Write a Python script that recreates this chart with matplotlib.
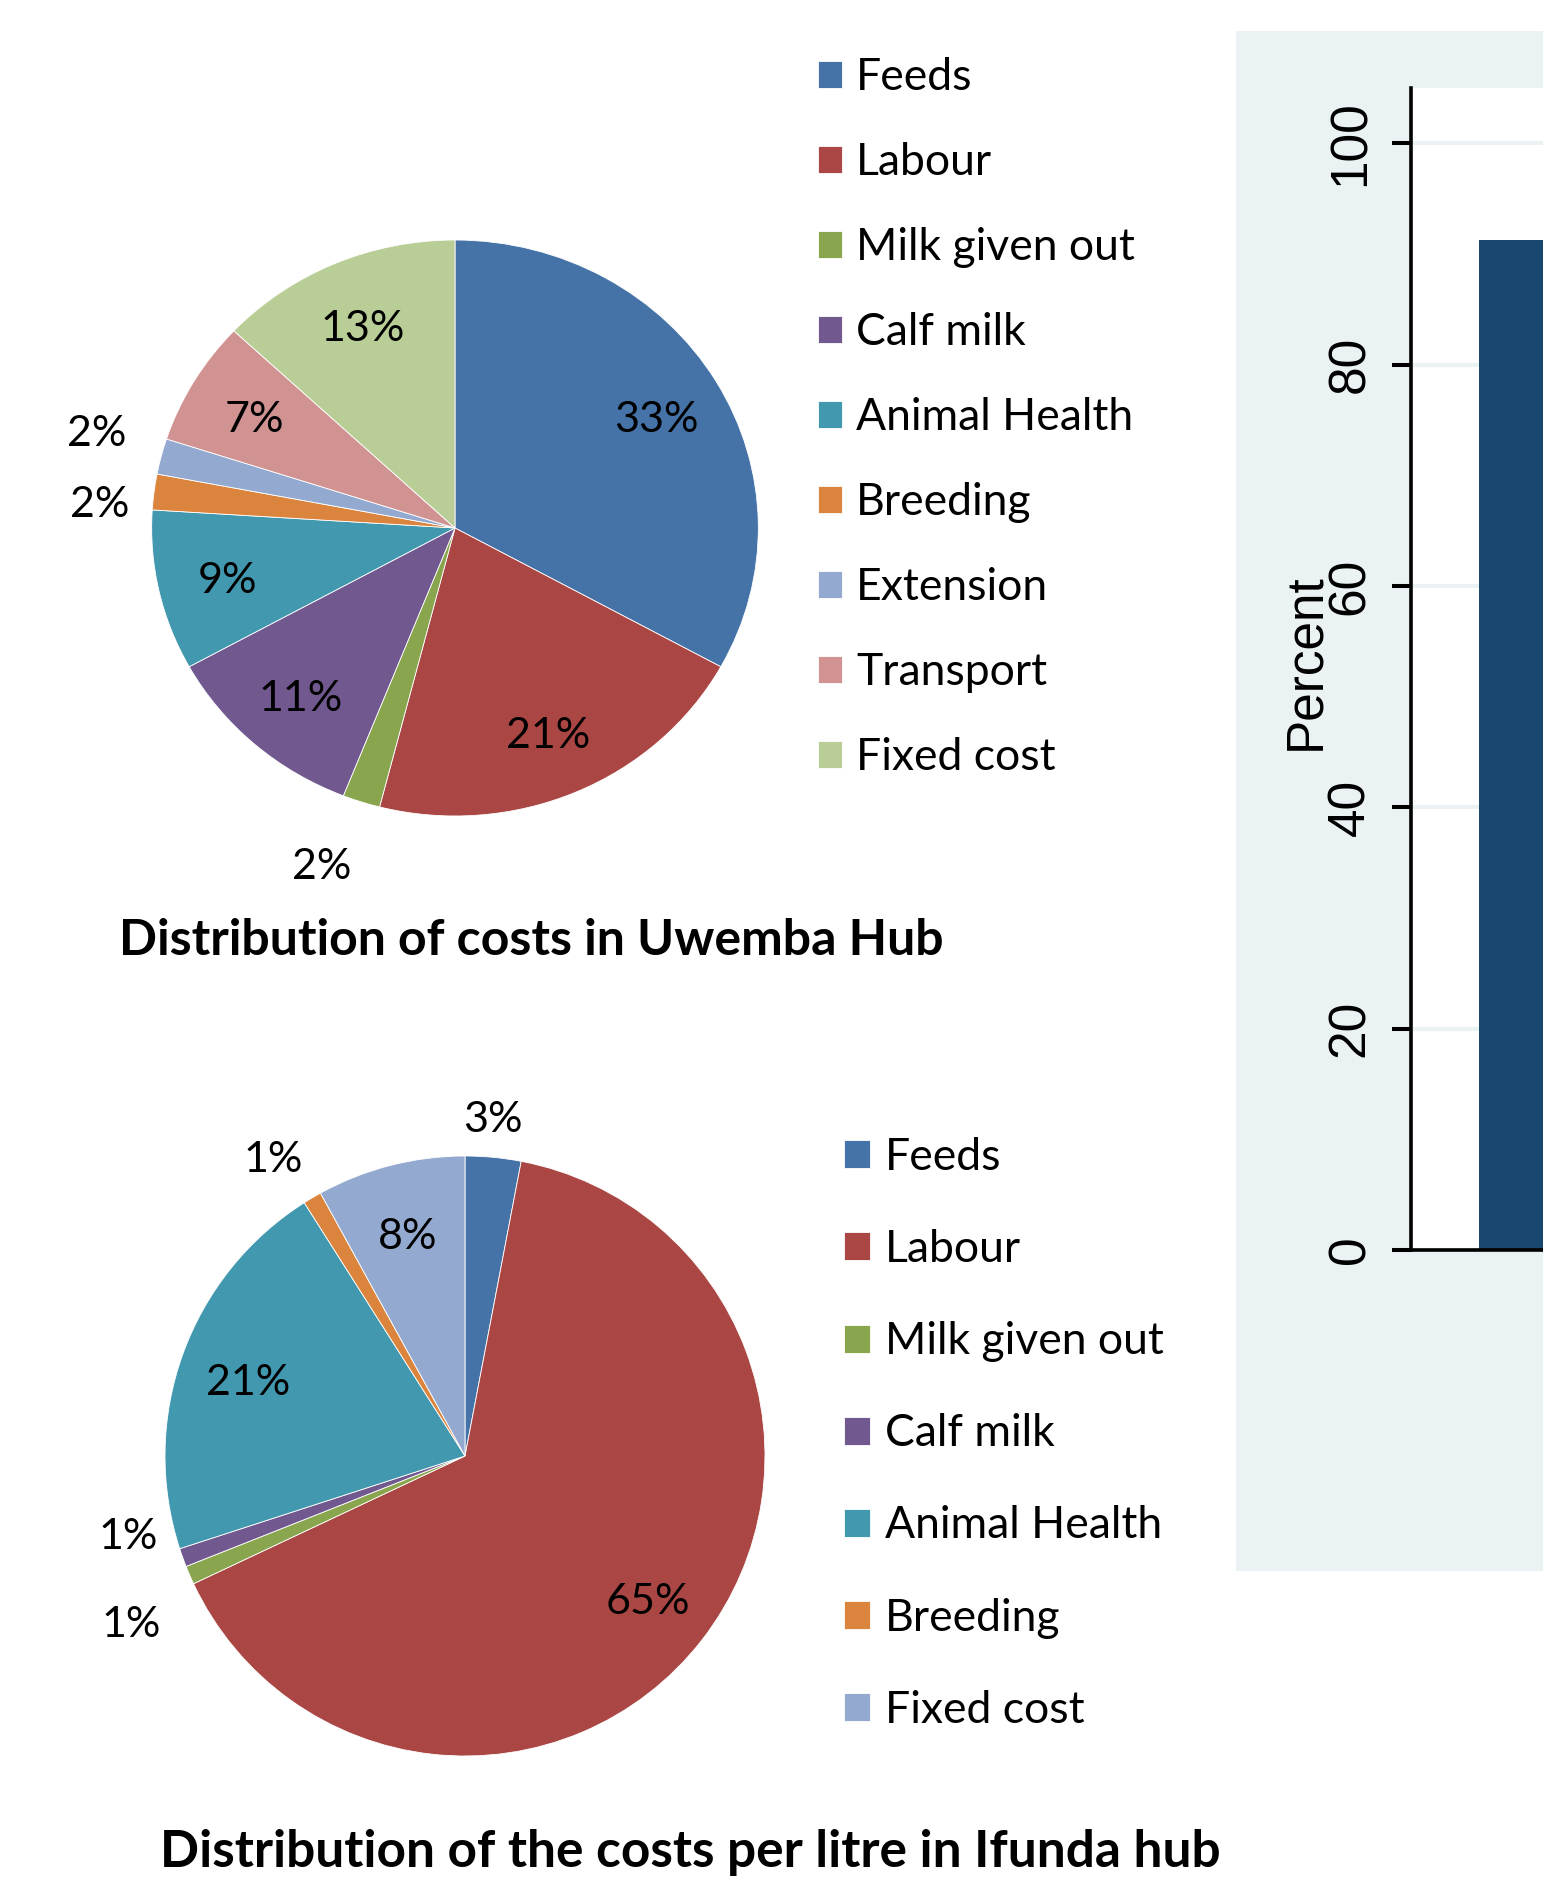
import matplotlib
matplotlib.use("Agg")
import matplotlib.pyplot as plt
from matplotlib.patches import Rectangle
import numpy as np

W, H = 1543, 1880
DPI = 100

# Uwemba hub cost shares (%)
uwemba_items = ["Feeds", "Labour", "Milk given out", "Calf milk", "Animal Health",
                "Breeding", "Extension", "Transport", "Fixed cost"]
uwemba_pct = [33, 21, 2, 11, 9, 2, 2, 7, 13]

# Ifunda hub cost shares per litre (%)
ifunda_items = ["Feeds", "Labour", "Milk given out", "Calf milk", "Animal Health",
                "Breeding", "Fixed cost"]
ifunda_pct = [3, 65, 1, 1, 21, 1, 8]

# the bar chart on the right (only the first bar is visible)
bar_pos = [0]
bar_values = [91.3]
y_ticks = [0, 20, 40, 60, 80, 100]

XL_COLORS = ["#4572A7", "#AA4643", "#89A54E", "#71588F", "#4198AF",
             "#DB843D", "#93A9CF", "#D19392", "#B9CD96"]
STATA_BG = "#EAF2F3"
STATA_BAR = "#1A476F"

XL_FONT = ["Lato", "DejaVu Sans"]
ST_FONT = ["Liberation Sans", "DejaVu Sans"]


def px_axes(fig, left, top, width, height):
    return fig.add_axes([left / W, 1 - (top + height) / H, width / W, height / H])


def draw_pie(ax, values, colors, outside):
    wedges, _ = ax.pie(values, colors=colors, startangle=90, counterclock=False,
                       wedgeprops=dict(edgecolor="white", linewidth=0.6))
    ax.set_aspect("auto")
    ax.set_xlim(-1.5, 1.5)
    ax.set_ylim(-1.5, 1.5)
    ax.patch.set_visible(False)
    # inside labels for big slices, outside ones (with a small nudge) for tiny ones
    for i, (w, v) in enumerate(zip(wedges, values)):
        dist, nudge = outside.get(i, (0.77, 0))
        a = np.radians((w.theta1 + w.theta2) / 2 + nudge)
        ax.annotate(f"{v}%", (dist * np.cos(a), dist * np.sin(a)),
                    xytext=(0, -3.5), textcoords="offset points",
                    ha="center", va="center", fontsize=31, family=XL_FONT)
    return wedges


fig = plt.figure(figsize=(W / DPI, H / DPI), dpi=DPI)

# grey-blue panel behind the stata bar chart
fig.add_artist(Rectangle((1236 / W, 1 - 1571 / H), 0.2, (1571 - 31) / H,
                         transform=fig.transFigure, facecolor=STATA_BG,
                         edgecolor="none", zorder=-1))

# top pie (slightly wider than tall, as in the original)
ax1 = px_axes(fig, 0, 96, 910, 864)
w1 = draw_pie(ax1, uwemba_pct, XL_COLORS[:len(uwemba_pct)],
              {2: (1.24, -2.8), 5: (1.175, 2.5), 6: (1.23, -1.8)})
fig.legend(w1, uwemba_items, loc="upper left", bbox_to_anchor=(818 / W, 1 - 57 / H),
           frameon=False, prop={"family": XL_FONT, "size": 32},
           handlelength=0.54, handleheight=0.54, handletextpad=0.32,
           labelspacing=0.99, borderpad=0, borderaxespad=0)
fig.text(531 / W, 1 - 955 / H, "Distribution of costs in Uwemba Hub", ha="center",
         va="baseline", fontsize=36, fontweight="bold", family=XL_FONT)

# bottom pie
ax2 = px_axes(fig, 15, 1006, 900, 900)
w2 = draw_pie(ax2, ifunda_pct, XL_COLORS[:len(ifunda_pct)],
              {0: (1.14, 0.8), 2: (1.24, 2.7), 3: (1.15, -7), 5: (1.19, 2)})
fig.legend(w2, ifunda_items, loc="upper left", bbox_to_anchor=(844 / W, 1 - 1137 / H),
           frameon=False, prop={"family": XL_FONT, "size": 32},
           handlelength=0.59, handleheight=0.59, handletextpad=0.33,
           labelspacing=1.15, borderpad=0, borderaxespad=0)
fig.text(690 / W, 1 - 1867 / H, "Distribution of the costs per litre in Ifunda hub",
         ha="center", va="baseline", fontsize=37, fontweight="bold", family=XL_FONT)

# stata bar chart, cut off at the right edge
axb = px_axes(fig, 1411, 88, 1088, 1162)
axb.set_facecolor("white")
axb.bar(bar_pos, bar_values, width=1.0, color=STATA_BAR, zorder=2)
axb.set_xlim(-0.6, 1.0)
axb.set_ylim(0, 105)
axb.set_yticks(y_ticks)
axb.set_yticklabels([str(t) for t in y_ticks], rotation=90, va="center",
                    fontsize=37, family=ST_FONT)
axb.tick_params(axis="y", length=13.7, width=2.9, pad=12)
axb.tick_params(axis="x", bottom=False, labelbottom=False)
axb.grid(axis="y", color=STATA_BG, linewidth=2.9)
axb.set_axisbelow(True)
for s in ["top", "right"]:
    axb.spines[s].set_visible(False)
for s in ["left", "bottom"]:
    axb.spines[s].set_linewidth(2.6)
axb.set_ylabel("Percent", fontsize=37, family=ST_FONT)
axb.yaxis.set_label_coords((1306 - 1411) / 1088, (1250 - 662) / 1162)
axb.yaxis.label.set_va("center")

fig.savefig("out.png", dpi=DPI)
